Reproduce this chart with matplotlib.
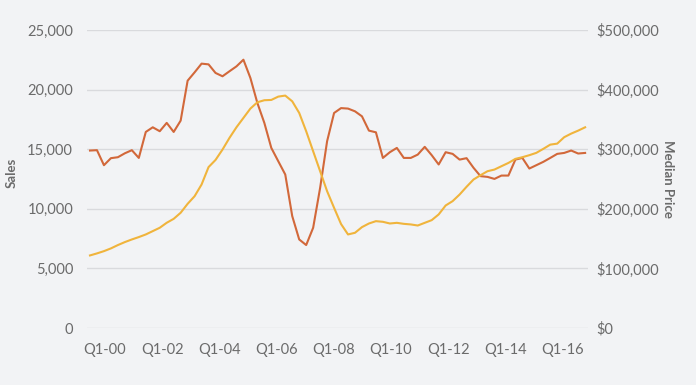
import matplotlib.pyplot as plt
from matplotlib.ticker import FuncFormatter

plt.rcParams["font.family"] = ["Lato", "DejaVu Sans"]

# quarterly data, starting Q3-99
sales = [14890, 14920, 13660, 14250, 14330, 14660, 14920, 14270, 16450, 16840,
         16510, 17210, 16450, 17400, 20750, 21450, 22180, 22120, 21400, 21120,
         21540, 21950, 22510, 20980, 18880, 17210, 15110, 13990, 12880, 9390,
         7430, 6960, 8410, 11760, 15670, 18040, 18450, 18410, 18180, 17760,
         16560, 16420, 14270, 14750, 15110, 14270, 14270, 14550, 15200, 14500,
         13720, 14750, 14610, 14130, 14250, 13440, 12740, 12680, 12510, 12790,
         12790, 14130, 14270, 13380, 13660, 13940, 14270, 14610, 14690, 14890,
         14640, 14690]
median_price = [121800, 125200, 129000, 133600, 139200, 144200, 148600, 152600,
                157000, 162600, 168200, 176600, 183200, 193400, 208400, 221200,
                240800, 270000, 282000, 299400, 319000, 336800, 352500, 368200,
                378800, 382200, 382700, 388300, 390000, 380400, 360900, 330200,
                296600, 263100, 229600, 201700, 174500, 157000, 159800, 169300,
                175400, 179300, 178200, 175400, 176500, 174800, 173800, 172000,
                176500, 181000, 190600, 205600, 212900, 224000, 237000, 249200,
                256400, 263100, 265900, 271500, 277000, 283800, 286600, 290000,
                293900, 300600, 307700, 309400, 320200, 326200, 331200, 336800]
tick_labels = ["Q1-00", "Q1-02", "Q1-04", "Q1-06", "Q1-08",
               "Q1-10", "Q1-12", "Q1-14", "Q1-16"]

bg = "#f2f3f5"
grey = "#6b6b6b"

fig = plt.figure(figsize=(6.96, 3.85), dpi=100, facecolor=bg)
ax = fig.add_axes([0.125, 0.148, 0.72, 0.774], facecolor=bg)
ax2 = ax.twinx()

x = list(range(len(sales)))
ax.plot(x, sales, color="#d2683a", lw=1.5, zorder=3)
ax2.plot(x, median_price, color="#f0b43c", lw=1.5, zorder=3)

ax.set_xlim(-0.43, len(sales) - 1 + 0.43)
ax.set_ylim(0, 25000)
ax2.set_ylim(0, 500000)
ax.set_yticks(range(0, 25001, 5000))
ax2.set_yticks(range(0, 500001, 100000))
ax.yaxis.set_major_formatter(FuncFormatter(lambda v, p: f"{int(v):,}"))
ax2.yaxis.set_major_formatter(FuncFormatter(lambda v, p: f"${int(v):,}"))

ax.set_xticks([2.15 + 8.2 * k for k in range(len(tick_labels))])
ax.set_xticklabels(tick_labels)

ax.grid(axis="y", color="#d9dadd", lw=1)
ax.set_axisbelow(True)
for a in (ax, ax2):
    for s in a.spines.values():
        s.set_visible(False)
    a.tick_params(length=0, colors=grey, labelsize=10.5)
ax.tick_params(axis="y", pad=10)
ax.tick_params(axis="x", pad=11)
ax2.tick_params(axis="y", pad=6)

fig.text(0.017, 0.55, "Sales", rotation=90, ha="center", va="center",
         color=grey, fontsize=9.5, fontweight="bold")
fig.text(0.96, 0.535, "Median Price", rotation=-90, ha="center", va="center",
         color=grey, fontsize=9.5, fontweight="bold")

fig.savefig("out.png", dpi=100, facecolor=bg)
